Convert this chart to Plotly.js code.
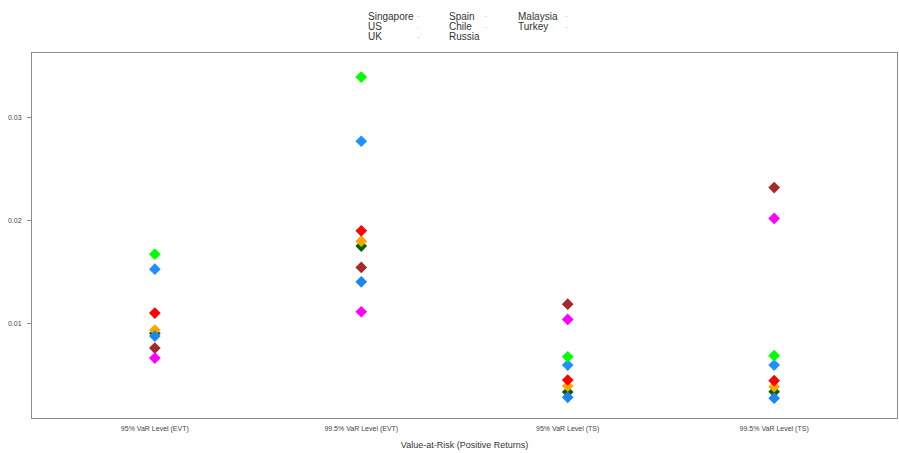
<!DOCTYPE html>
<html>
<head>
<meta charset="utf-8">
<script src="https://cdn.plot.ly/plotly-3.0.1.min.js"></script>
<style>html,body{margin:0;padding:0;background:#fff;}#chart{width:899px;height:453px;}</style>
</head>
<body>
<div id="chart"></div>
<script>
var categories = ["95% VaR Level (EVT)", "99.5% VaR Level (EVT)", "95% VaR Level (TS)", "99.5% VaR Level (TS)"];
var countries = ["Singapore", "US", "UK", "Spain", "Chile", "Russia", "Malaysia", "Turkey"];
var colors = ["#1C86EE", "#006400", "#FFA500", "#FF0000", "#FF00FF", "#A52A2A", "#00FF00", "#1E90FF"];
var singapore = [0.00874, 0.01401, 0.00279, 0.00270];
var us        = [0.00900, 0.01748, 0.00330, 0.00333];
var uk        = [0.00932, 0.01796, 0.00388, 0.00382];
var spain     = [0.01097, 0.01896, 0.00447, 0.00440];
var chile     = [0.00660, 0.01110, 0.01036, 0.02017];
var russia    = [0.00757, 0.01541, 0.01184, 0.02317];
var malaysia  = [0.01670, 0.03390, 0.00673, 0.00683];
var turkey    = [0.01524, 0.02767, 0.00592, 0.00592];
var yTicks = [0.01, 0.02, 0.03];
var yTickText = ["0.01", "0.02", "0.03"];

var seriesValues = [singapore, us, uk, spain, chile, russia, malaysia, turkey];
var drawOrder = [1, 2, 0, 7, 3, 5, 4, 6];
var traces = drawOrder.map(function (i) {
  return {
    type: "scatter", mode: "markers", name: countries[i],
    x: categories, y: seriesValues[i], showlegend: false,
    marker: {symbol: "diamond", size: 9, color: colors[i], line: {width: 0}},
    hoverinfo: "name+y"
  };
});

var font = "Liberation Sans, Arial, sans-serif";
var legendCols = [[0, 1, 2], [3, 4, 5], [6, 7]];
var legendX = [366, 447, 516];
var markX = [418, 486, 566];
var markCol = [["#d8d8d8", "#e6e6e6", "#d0d0d0"], ["#f2c8c8", "#dddddd", "#eef8f0"], ["#d8d8d8", "#d8d8d8"]];
var annotations = [];
legendCols.forEach(function (col, c) {
  col.forEach(function (ci, r) {
    annotations.push({xref: "paper", yref: "paper",
      x: (legendX[c] - 32) / 865, y: 1 + (53 - (16 + r * 10.5)) / 365,
      xanchor: "left", yanchor: "middle", showarrow: false,
      text: countries[ci], font: {family: font, size: 10, color: "#333"}});
    annotations.push({xref: "paper", yref: "paper",
      x: (markX[c] - 32) / 865, y: 1 + (53 - (16 + r * 10.5)) / 365,
      xanchor: "center", yanchor: "middle", showarrow: false,
      text: "-", font: {family: font, size: 9, color: markCol[c][r]}});
  });
});

var layout = {
  width: 899, height: 453,
  margin: {l: 32, r: 2, t: 53, b: 35},
  paper_bgcolor: "#fff", plot_bgcolor: "#fff",
  showlegend: false,
  font: {family: font, color: "#333"},
  xaxis: {
    type: "category", range: [-0.595, 3.595],
    showgrid: false, zeroline: false,
    showline: true, mirror: true, linecolor: "#8c8c8c", linewidth: 1,
    ticks: "", ticklabelstandoff: 4, tickfont: {family: font, size: 7, color: "#444"},
    title: {text: "Value-at-Risk (Positive Returns)", font: {family: font, size: 9, color: "#333"}, standoff: 9}
  },
  yaxis: {
    range: [0.000777, 0.036243],
    tickvals: yTicks, ticktext: yTickText,
    showgrid: false, zeroline: false,
    showline: true, mirror: true, linecolor: "#8c8c8c", linewidth: 1,
    ticks: "outside", ticklen: 4, tickcolor: "#8c8c8c", ticklabelstandoff: 4,
    tickfont: {family: font, size: 7, color: "#444"}
  },
  annotations: annotations
};

Plotly.newPlot("chart", traces, layout, {displayModeBar: false, staticPlot: true});
</script>
</body>
</html>
